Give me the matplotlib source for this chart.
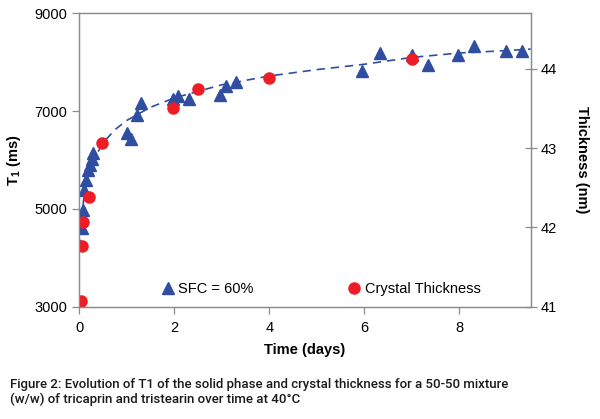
import matplotlib.pyplot as plt

plt.rcParams['font.family'] = ['Liberation Sans', 'DejaVu Sans']
plt.rcParams['mathtext.fontset'] = 'custom'
plt.rcParams['mathtext.rm'] = 'Liberation Sans'
plt.rcParams['mathtext.bf'] = 'Liberation Sans:bold'

# SFC = 60% (T1, ms) vs time (days)
sfc_days = [0.05, 0.07, 0.10, 0.14, 0.19, 0.225, 0.26, 0.30,
            1.00, 1.08, 1.21, 1.30, 1.98, 2.08, 2.32, 2.96, 3.09, 3.30,
            5.95, 6.32, 7.00, 7.33, 7.98, 8.31, 8.98, 9.31]
sfc_t1 = [4605, 4980, 5390, 5590, 5800, 5900, 6020, 6140,
          6550, 6430, 6920, 7160, 7240, 7310, 7240, 7330, 7515, 7605,
          7820, 8185, 8150, 7945, 8150, 8335, 8240, 8235]

# crystal thickness (nm) vs time (days)
cry_days = [0.03, 0.05, 0.07, 0.21, 0.49, 1.98, 2.50, 3.99, 7.00]
cry_nm = [41.07, 41.77, 42.07, 42.39, 43.06, 43.51, 43.75, 43.89, 44.13]

# dashed trend line
fit_days = [0.02, 0.05, 0.1, 0.2, 0.3, 0.5, 0.75, 1.0, 1.5, 2.0,
            3.0, 4.0, 5.0, 6.0, 7.0, 8.0, 9.0, 9.5]
fit_t1 = [4200, 4800, 5250, 5730, 6000, 6350, 6620, 6810, 7080, 7270,
          7540, 7720, 7850, 7960, 8100, 8190, 8240, 8270]

caption = ("Figure 2: Evolution of T1 of the solid phase and crystal thickness for a 50-50 mixture\n"
           "(w/w) of tricaprin and tristearin over time at 40\u00b0C")

blue = '#2f4ea1'
red = '#ee1c25'
grey = '#8c8c8c'

fig = plt.figure(figsize=(6, 4.19), dpi=100)
ax = fig.add_axes([0.132, 0.268, 0.7525, 0.7])
ax2 = ax.twinx()

ax.plot(fit_days, fit_t1, color=blue, lw=1.2, dashes=(5, 3.5), zorder=2)
tri, = ax.plot(sfc_days, sfc_t1, '^', color=blue, ms=8.5, mec=blue, zorder=3,
               label='SFC = 60%')
dot, = ax2.plot(cry_days, cry_nm, 'o', color=red, ms=8, mec=red,
                label='Crystal Thickness')

ax.set_xlim(0, 9.5)
ax.set_ylim(3000, 9000)
ax2.set_ylim(41, 44.7)
ax.set_xticks([0, 2, 4, 6, 8])
ax.set_yticks([3000, 5000, 7000, 9000])
ax2.set_yticks([41, 42, 43, 44])

for a in (ax, ax2):
    for s in a.spines.values():
        s.set_color(grey)
        s.set_linewidth(0.9)
ax.tick_params(axis='both', direction='out', length=5, color=grey,
               labelsize=10.5, width=0.9)
ax2.tick_params(axis='y', direction='inout', length=8, color=grey,
                labelsize=10.5, width=0.9)
ax.tick_params(axis='x', pad=5)

ax.set_xlabel('Time (days)', fontsize=10.5, fontweight='bold', labelpad=6)
ax.set_ylabel(r'$\mathbf{T_1}$ (ms)', fontsize=10.5, fontweight='bold', labelpad=8)
ax2.set_ylabel('Thickness (nm)', fontsize=10.5, fontweight='bold',
               rotation=-90, labelpad=23)

ax2.legend([tri, dot], ['SFC = 60%', 'Crystal Thickness'], ncol=2,
           loc='lower left', bbox_to_anchor=(0.155, 0.0), frameon=False,
           fontsize=10.5, handletextpad=0.1, handlelength=1.2,
           columnspacing=6.3, borderaxespad=0.3)

fig.text(0.017, 0.097, caption, fontsize=9.5, va='top', ha='left',
         family=['Roboto', 'DejaVu Sans'], fontweight='medium',
         linespacing=1.1, color='#1a1a1a')

fig.savefig('out.png', dpi=100)
